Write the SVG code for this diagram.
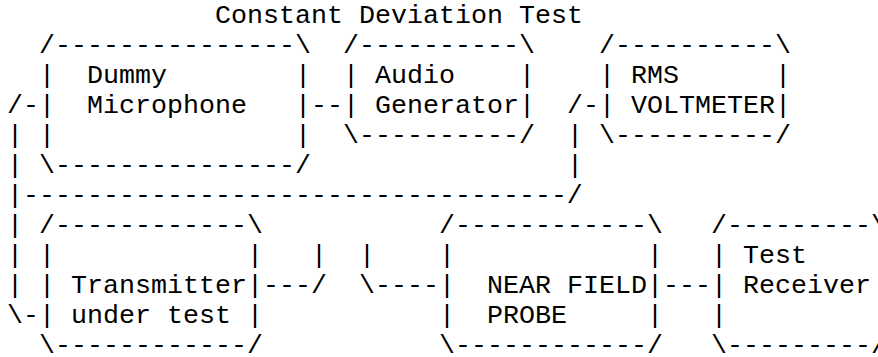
<svg xmlns="http://www.w3.org/2000/svg" width="878" height="357" viewBox="0 0 878 357" xml:space="preserve">
<style>
text { font-family: "Liberation Mono", "Courier New", monospace; font-size: 26.667px; fill: #000; white-space: pre; }
</style>
<rect width="878" height="357" fill="#fff"/>
<text id="title" x="215" y="23">Constant Deviation Test</text>
<g id="dummy-microphone">
<text x="39" y="53">/---------------\</text>
<text x="39" y="83">|  Dummy        |</text>
<text x="39" y="113">|  Microphone   |</text>
<text x="39" y="143">|               |</text>
<text x="39" y="173">\---------------/</text>
</g>
<g id="audio-generator">
<text x="343" y="53">/----------\</text>
<text x="343" y="83">| Audio    |</text>
<text x="343" y="113">| Generator|</text>
<text x="343" y="143">\----------/</text>
</g>
<g id="rms-voltmeter">
<text x="599" y="53">/----------\</text>
<text x="599" y="83">| RMS      |</text>
<text x="599" y="113">| VOLTMETER|</text>
<text x="599" y="143">\----------/</text>
</g>
<g id="transmitter">
<text x="39" y="233">/------------\</text>
<text x="39" y="263">|            |</text>
<text x="39" y="293">| Transmitter|</text>
<text x="39" y="323">| under test |</text>
<text x="39" y="353">\------------/</text>
</g>
<g id="near-field-probe">
<text x="439" y="233">/------------\</text>
<text x="439" y="263">|            |</text>
<text x="439" y="293">|  NEAR FIELD|</text>
<text x="439" y="323">|  PROBE     |</text>
<text x="439" y="353">\------------/</text>
</g>
<g id="test-receiver">
<text x="711" y="233">/---------\</text>
<text x="711" y="263">| Test</text>
<text x="711" y="293">| Receiver</text>
<text x="711" y="323">|</text>
<text x="711" y="353">\---------/</text>
</g>
<g id="connectors">
<text x="7" y="113">/-</text>
<text x="7" y="143">|</text>
<text x="7" y="173">|</text>
<text x="7" y="203">|----------------------------------/</text>
<text x="7" y="233">|</text>
<text x="7" y="263">|</text>
<text x="7" y="293">|</text>
<text x="7" y="323">\-</text>
<text x="311" y="113">--</text>
<text x="567" y="113">/-</text>
<text x="567" y="143">|</text>
<text x="567" y="173">|</text>
<text x="311" y="263">|</text>
<text x="359" y="263">|</text>
<text x="263" y="293">---/</text>
<text x="359" y="293">\----</text>
<text x="663" y="293">---</text>
</g>
</svg>
